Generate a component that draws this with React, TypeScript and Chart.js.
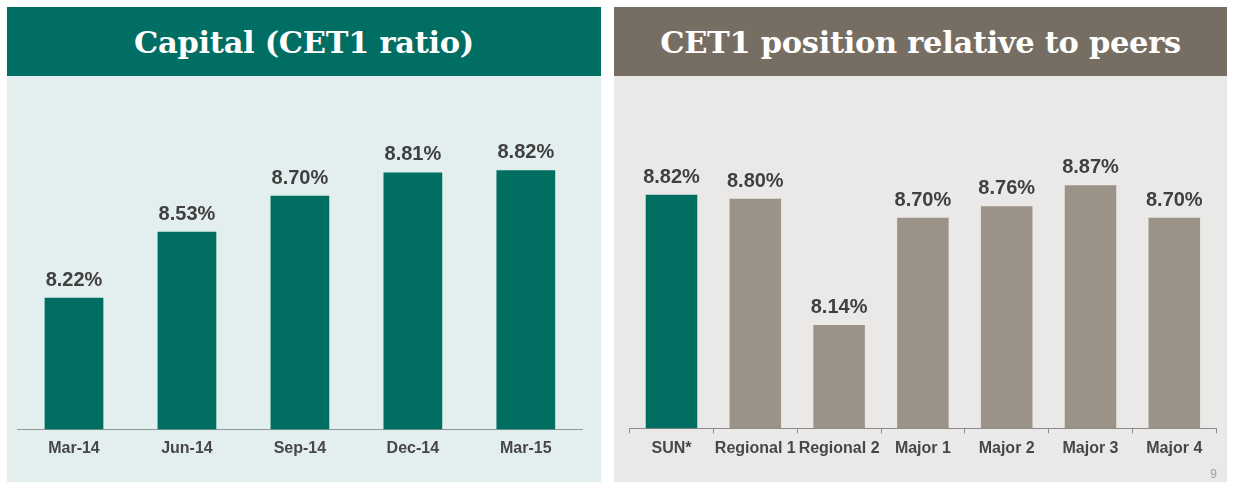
import React, { useEffect, useRef } from "react";
import { Chart, registerables } from "chart.js";

Chart.register(...registerables);

const capitalTitle = "Capital (CET1 ratio)";
const capitalLabels = ["Mar-14", "Jun-14", "Sep-14", "Dec-14", "Mar-15"];
const capitalValues = [8.22, 8.53, 8.7, 8.81, 8.82];

const peerTitle = "CET1 position relative to peers";
const peerLabels = ["SUN*", "Regional 1", "Regional 2", "Major 1", "Major 2", "Major 3", "Major 4"];
const peerValues = [8.82, 8.8, 8.14, 8.7, 8.76, 8.87, 8.7];

const TEAL = "#006e61";
const GRAY_BAR = "#9c9388";
const peerColors = peerLabels.map((_, i) => (i === 0 ? TEAL : GRAY_BAR));

const LABEL_FONT = "bold 20px 'Liberation Sans', Arial, sans-serif";

const valueLabels = {
  id: "valueLabels",
  afterDatasetsDraw(chart: any, _args: any, opts: any) {
    const ctx = chart.ctx;
    const meta = chart.getDatasetMeta(0);
    const data = chart.data.datasets[0].data as number[];
    ctx.save();
    ctx.font = LABEL_FONT;
    ctx.fillStyle = "#404040";
    ctx.textAlign = "center";
    ctx.textBaseline = "alphabetic";
    meta.data.forEach((bar: any, i: number) => {
      ctx.fillText(data[i].toFixed(2) + "%", bar.x, bar.y - (opts.gap ?? 11));
    });
    ctx.restore();
  },
};

type BarProps = {
  labels: string[];
  values: number[];
  colors: string | string[];
  barPct: number;
  yMax: number;
  pad: { left: number; right: number; top: number };
  axisHeight: number;
  tickMarks: boolean;
  axisColor: string;
  gap: number;
  labelPad: number;
  width: number;
};

function Panel(props: {
  left: number;
  width: number;
  title: string;
  headerBg: string;
  bodyBg: string;
  children: React.ReactNode;
}) {
  return (
    <div style={{ position: "absolute", left: props.left, top: 7, width: props.width, height: 475 }}>
      <div
        style={{
          height: 69,
          background: props.headerBg,
          color: "#ffffff",
          display: "flex",
          alignItems: "center",
          justifyContent: "center",
          fontFamily: "'DejaVu Serif', Georgia, serif",
          fontWeight: "bold",
          fontSize: 30.5,
          letterSpacing: -0.3,
        }}
      >
        {props.title}
      </div>
      <div style={{ position: "absolute", top: 69, left: 0, width: props.width, height: 406, background: props.bodyBg }}>
        {props.children}
      </div>
    </div>
  );
}

function CanvasChart(p: BarProps) {
  const ref = useRef<HTMLCanvasElement | null>(null);
  useEffect(() => {
    if (!ref.current) return;
    const chart = new Chart(ref.current, {
      type: "bar",
      data: {
        labels: p.labels,
        datasets: [
          {
            data: p.values,
            backgroundColor: p.colors,
            borderWidth: 0,
            categoryPercentage: 1,
            barPercentage: p.barPct,
          },
        ],
      },
      options: {
        animation: false,
        responsive: false,
        maintainAspectRatio: false,
        devicePixelRatio: 1,
        layout: { padding: { left: p.pad.left, right: p.pad.right, top: p.pad.top, bottom: 0 } },
        plugins: {
          legend: { display: false },
          tooltip: { enabled: false },
          valueLabels: { gap: p.gap },
        } as any,
        scales: {
          x: {
            offset: true,
            grid: {
              display: true,
              offset: true,
              drawOnChartArea: false,
              drawTicks: p.tickMarks,
              tickLength: 5,
              color: p.tickMarks ? p.axisColor : "rgba(0,0,0,0)",
              lineWidth: 1,
            },
            border: { display: true, color: p.axisColor, width: 1 },
            ticks: {
              color: "#474747",
              padding: p.labelPad,
              maxRotation: 0,
              autoSkip: false,
              font: { family: "'Liberation Sans', Arial, sans-serif", size: 16, weight: "bold" },
            },
            afterFit: (scale: any) => {
              scale.height = p.axisHeight;
            },
          } as any,
          y: {
            display: false,
            min: 7.6,
            max: p.yMax,
          },
        },
      },
      plugins: [valueLabels],
    });
    return () => chart.destroy();
  }, []);
  return <canvas ref={ref} width={p.width} height={406} style={{ display: "block", width: p.width, height: 406 }} />;
}

export default function App() {
  return (
    <div style={{ position: "absolute", left: 0, top: 0, width: 1236, height: 483, background: "#ffffff", overflow: "hidden" }}>
      <Panel left={7} width={594} title={capitalTitle} headerBg="#006e62" bodyBg="#e3efee">
        <CanvasChart
          width={594}
          labels={capitalLabels}
          values={capitalValues}
          colors={TEAL}
          barPct={0.52}
          yMax={9.2}
          pad={{ left: 10.5, right: 18.7, top: 13.6 }}
          axisHeight={52.7}
          tickMarks={false}
          axisColor="#8f9897"
          gap={12}
          labelPad={10}
        />
      </Panel>
      <Panel left={614} width={613} title={peerTitle} headerBg="#776e63" bodyBg="#ebe9e7">
        <CanvasChart
          width={613}
          labels={peerLabels}
          values={peerValues}
          colors={peerColors}
          barPct={0.615}
          yMax={9.4}
          pad={{ left: 15.6, right: 10.8, top: 7.8 }}
          axisHeight={53.7}
          tickMarks={true}
          axisColor="#8c8c8c"
          gap={12}
          labelPad={6}
        />
        <div
          style={{
            position: "absolute",
            right: 10,
            bottom: 1,
            fontFamily: "'Liberation Sans', Arial, sans-serif",
            fontSize: 12,
            color: "#a0a0a0",
          }}
        >
          9
        </div>
      </Panel>
    </div>
  );
}
